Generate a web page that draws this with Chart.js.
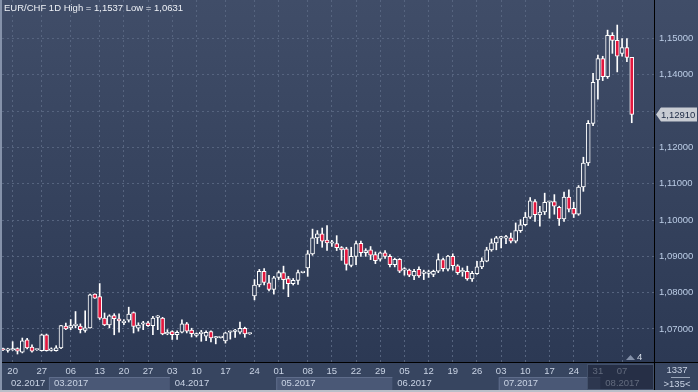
<!DOCTYPE html>
<html>
<head>
<meta charset="utf-8">
<script src="https://cdn.jsdelivr.net/npm/chart.js@4.4.1/dist/chart.umd.min.js"></script>
<style>
html, body { margin: 0; padding: 0; background: #2c3954; }
#chart { display: block; }
</style>
</head>
<body>
<canvas id="chart" width="698" height="392"></canvas>
<script>
// ======================= EUR/CHF 1D candles (Feb - Aug 2017) =======================

// OHLC, one entry per bar
const opens = [
  1.0645, 1.0641, 1.0642, 1.0646, 1.0636, 1.0670, 1.0650, 1.0642, 1.0640, 1.0684,
  1.0641, 1.0640, 1.0648, 1.0708, 1.0703, 1.0709, 1.0708, 1.0696, 1.0703, 1.0796,
  1.0789, 1.0730, 1.0711, 1.0737, 1.0728, 1.0717, 1.0724, 1.0745, 1.0702, 1.0713,
  1.0717, 1.0709, 1.0732, 1.0730, 1.0686, 1.0693, 1.0684, 1.0691, 1.0714, 1.0697,
  1.0682, 1.0687, 1.0680, 1.0693, 1.0675, 1.0676, 1.0667, 1.0691, 1.0693, 1.0691,
  1.0702, 1.0686, 1.0791, 1.0821, 1.0859, 1.0827, 1.0809, 1.0842, 1.0855, 1.0839,
  1.0825, 1.0834, 1.0855, 1.0868, 1.0907, 1.0951, 1.0962, 1.0945, 1.0936, 1.0935,
  1.0924, 1.0921, 1.0875, 1.0900, 1.0936, 1.0910, 1.0918, 1.0905, 1.0892, 1.0910,
  1.0900, 1.0877, 1.0892, 1.0862, 1.0862, 1.0846, 1.0864, 1.0853, 1.0853, 1.0850,
  1.0859, 1.0891, 1.0865, 1.0900, 1.0874, 1.0857, 1.0859, 1.0838, 1.0852, 1.0871,
  1.0887, 1.0918, 1.0937, 1.0950, 1.0950, 1.0951, 1.0942, 1.0971, 1.0987, 1.1008,
  1.1051, 1.1014, 1.1022, 1.1049, 1.1051, 1.1035, 1.1003, 1.1063, 1.1032, 1.1016,
  1.1091, 1.1157, 1.1266, 1.1386, 1.1445, 1.1395, 1.1509, 1.1495, 1.1459, 1.1475,
  1.1448
];
const highs = [
  1.0647, 1.0647, 1.0665, 1.0648, 1.0675, 1.0674, 1.0656, 1.0643, 1.0686, 1.0686,
  1.0648, 1.0654, 1.0710, 1.0716, 1.0726, 1.0748, 1.0714, 1.0750, 1.0796, 1.0797,
  1.0825, 1.0744, 1.0739, 1.0742, 1.0742, 1.0726, 1.0760, 1.0747, 1.0717, 1.0721,
  1.0721, 1.0735, 1.0737, 1.0732, 1.0698, 1.0695, 1.0695, 1.0725, 1.0718, 1.0702,
  1.0689, 1.0696, 1.0695, 1.0695, 1.0679, 1.0677, 1.0691, 1.0694, 1.0699, 1.0719,
  1.0705, 1.0687, 1.0836, 1.0864, 1.0866, 1.0848, 1.0845, 1.0860, 1.0873, 1.0845,
  1.0839, 1.0862, 1.0856, 1.0916, 1.0975, 1.0971, 1.0978, 1.0985, 1.0944, 1.0957,
  1.0927, 1.0925, 1.0925, 1.0942, 1.0942, 1.0921, 1.0927, 1.0912, 1.0912, 1.0916,
  1.0905, 1.0895, 1.0894, 1.0869, 1.0865, 1.0864, 1.0871, 1.0862, 1.0862, 1.0862,
  1.0907, 1.0895, 1.0903, 1.0907, 1.0877, 1.0868, 1.0873, 1.0859, 1.0886, 1.0896,
  1.0925, 1.0948, 1.0955, 1.0955, 1.0958, 1.0964, 1.0992, 1.1001, 1.1021, 1.1062,
  1.1056, 1.1038, 1.1074, 1.1051, 1.1070, 1.1038, 1.1077, 1.1083, 1.1049, 1.1095,
  1.1173, 1.1274, 1.1404, 1.1454, 1.1451, 1.1523, 1.1516, 1.1537, 1.1500, 1.1500,
  1.1448
];
const lows = [
  1.0640, 1.0636, 1.0641, 1.0631, 1.0634, 1.0645, 1.0636, 1.0641, 1.0639, 1.0639,
  1.0639, 1.0639, 1.0646, 1.0698, 1.0698, 1.0703, 1.0689, 1.0691, 1.0702, 1.0784,
  1.0726, 1.0709, 1.0703, 1.0684, 1.0691, 1.0712, 1.0719, 1.0689, 1.0694, 1.0698,
  1.0707, 1.0684, 1.0698, 1.0684, 1.0684, 1.0671, 1.0671, 1.0689, 1.0689, 1.0678,
  1.0678, 1.0666, 1.0668, 1.0664, 1.0659, 1.0675, 1.0661, 1.0672, 1.0677, 1.0686,
  1.0677, 1.0685, 1.0780, 1.0816, 1.0821, 1.0805, 1.0796, 1.0836, 1.0810, 1.0789,
  1.0821, 1.0823, 1.0854, 1.0845, 1.0903, 1.0935, 1.0925, 1.0916, 1.0927, 1.0916,
  1.0889, 1.0862, 1.0871, 1.0877, 1.0900, 1.0900, 1.0891, 1.0880, 1.0887, 1.0894,
  1.0871, 1.0871, 1.0855, 1.0848, 1.0844, 1.0836, 1.0842, 1.0836, 1.0842, 1.0844,
  1.0855, 1.0859, 1.0860, 1.0862, 1.0850, 1.0845, 1.0834, 1.0831, 1.0850, 1.0866,
  1.0885, 1.0914, 1.0918, 1.0923, 1.0935, 1.0937, 1.0937, 1.0966, 1.0984, 1.1004,
  1.0996, 1.0983, 1.1015, 1.1005, 1.1016, 1.0985, 1.0996, 1.1022, 1.1007, 1.1013,
  1.1079, 1.1150, 1.1260, 1.1333, 1.1384, 1.1390, 1.1459, 1.1408, 1.1451, 1.1436,
  1.1268
];
const closes = [
  1.0642, 1.0642, 1.0644, 1.0639, 1.0667, 1.0648, 1.0639, 1.0642, 1.0684, 1.0640,
  1.0641, 1.0648, 1.0709, 1.0700, 1.0709, 1.0709, 1.0698, 1.0703, 1.0794, 1.0785,
  1.0730, 1.0711, 1.0736, 1.0728, 1.0722, 1.0722, 1.0741, 1.0707, 1.0711, 1.0713,
  1.0709, 1.0730, 1.0732, 1.0686, 1.0691, 1.0684, 1.0691, 1.0714, 1.0694, 1.0687,
  1.0687, 1.0687, 1.0691, 1.0675, 1.0675, 1.0676, 1.0689, 1.0691, 1.0693, 1.0702,
  1.0686, 1.0686, 1.0821, 1.0859, 1.0828, 1.0809, 1.0841, 1.0855, 1.0836, 1.0825,
  1.0834, 1.0855, 1.0855, 1.0907, 1.0951, 1.0962, 1.0942, 1.0937, 1.0936, 1.0924,
  1.0918, 1.0878, 1.0900, 1.0935, 1.0910, 1.0916, 1.0903, 1.0888, 1.0910, 1.0900,
  1.0877, 1.0892, 1.0859, 1.0862, 1.0848, 1.0859, 1.0846, 1.0853, 1.0853, 1.0859,
  1.0891, 1.0866, 1.0901, 1.0874, 1.0855, 1.0857, 1.0838, 1.0853, 1.0871, 1.0887,
  1.0918, 1.0937, 1.0951, 1.0950, 1.0950, 1.0942, 1.0971, 1.0987, 1.1008, 1.1053,
  1.1015, 1.1022, 1.1049, 1.1049, 1.1038, 1.1003, 1.1063, 1.1030, 1.1016, 1.1091,
  1.1157, 1.1266, 1.1379, 1.1445, 1.1395, 1.1509, 1.1495, 1.1451, 1.1475, 1.1448,
  1.1291
];

// Week-start tick labels and the bar they sit on
const dayIdx = [2, 8, 14, 20, 25, 30, 35, 40, 46, 52, 57, 63, 68, 73, 78, 83, 88, 93, 98, 103, 108, 113, 118, 123, 128];
const dayLabels = ['20', '27', '06', '13', '20', '27', '03', '10', '17', '24', '01', '08', '15', '22', '29', '05', '12', '19', '26', '03', '10', '17', '24', '31', '07'];

// Month row (bar position where each month starts)
const months = ['02.2017', '03.2017', '04.2017', '05.2017', '06.2017', '07.2017', '08.2017'];
const monthStart = [-3, 9.5, 34.5, 56.5, 80.5, 102.5, 123.5];

// Price axis
const priceTicks = [1.07, 1.08, 1.09, 1.10, 1.11, 1.12, 1.13, 1.14, 1.15];

// ----------------------------------------------------------------------------------
const RED = '#e3173e';
const FONT = 'Liberation Sans, Arial, sans-serif';
const TXT = '#c9d3e4';
const fmt = (v, d) => v.toFixed(d).replace('.', ',');

let bgGrad = null;
function backGradient(chart) {
    if (!bgGrad) {
        bgGrad = chart.ctx.createLinearGradient(0, 0, 0, 362);
        bgGrad.addColorStop(0, '#404d68');
        bgGrad.addColorStop(1, '#2c3954');
    }
    return bgGrad;
}

const bodies = opens.map((o, i) => ({ x: i, y: [Math.min(o, closes[i]), Math.max(o, closes[i])] }));
const wicks = lows.map((l, i) => ({ x: i, y: [l, highs[i]] }));

// no label overhang padding, the plot fills the frame
function noPad(s) { s.paddingTop = 0; s.paddingBottom = 0; s.paddingLeft = 0; s.paddingRight = 0; }

const framePlugin = {
    id: 'frame',
    beforeDraw(chart) {
        const c = chart.ctx;
        c.save();
        c.fillStyle = backGradient(chart);
        c.fillRect(0, 0, 698, 392);
        // bottom strip
        c.fillStyle = '#374560';
        c.fillRect(0, 363, 698, 29);
        c.restore();
    },
    afterDraw(chart) {
        const c = chart.ctx;
        const xs = chart.scales.x, ys = chart.scales.y;
        c.save();

        // month row
        c.font = '9.5px ' + FONT;
        c.textBaseline = 'middle';
        for (let i = 0; i < months.length; i++) {
            const x0 = xs.getPixelForValue(monthStart[i]);
            const x1 = i + 1 < months.length ? xs.getPixelForValue(monthStart[i + 1]) : 654;
            if (i % 2 === 1) {
                c.fillStyle = '#4a5876';
                c.fillRect(x0, 377, Math.min(x1, 654) - x0, 13);
                c.strokeStyle = '#5e6c8a';
                c.beginPath();
                c.moveTo(x0 + 0.5, 390); c.lineTo(x0 + 0.5, 377.5); c.lineTo(Math.min(x1, 654), 377.5);
                c.stroke();
            }
            c.fillStyle = TXT;
            c.fillText(months[i], Math.max(x0, 6) + 5, 383);
        }

        // dimmed overlay at the right end of the time axis
        c.fillStyle = 'rgba(26,34,54,0.6)';
        c.fillRect(587, 364, 67, 26);
        c.strokeStyle = 'rgba(70,84,110,0.9)';
        c.strokeRect(587.5, 364.5, 66, 25);

        // axis lines
        c.strokeStyle = '#000';
        c.lineWidth = 1;
        c.beginPath();
        c.moveTo(0, 362.5); c.lineTo(698, 362.5);
        c.moveTo(654.5, 0); c.lineTo(654.5, 392);
        c.stroke();

        // bottom-right counters
        c.fillStyle = TXT;
        c.textAlign = 'center';
        c.fillText('1337', 677, 370);
        c.fillText('>135<', 677, 384);
        c.strokeStyle = '#9aa6ba';
        c.beginPath();
        c.moveTo(671, 377.5); c.lineTo(690, 377.5);
        c.stroke();

        // marker "4" at the bottom of the plot
        c.fillStyle = '#8390a8';
        c.beginPath();
        c.moveTo(626, 360); c.lineTo(630.5, 355); c.lineTo(635, 360);
        c.closePath(); c.fill();
        c.fillStyle = '#d8dfea';
        c.textAlign = 'left';
        c.fillText('4', 637, 357);

        // last price tag
        const last = closes[closes.length - 1];
        const py = Math.round(ys.getPixelForValue(last)) + 0.5;
        c.fillStyle = '#c8ccd3';
        c.beginPath();
        c.moveTo(656, py); c.lineTo(661, py - 7); c.lineTo(697, py - 7); c.lineTo(697, py + 7); c.lineTo(661, py + 7);
        c.closePath(); c.fill();
        c.fillStyle = '#1d2a44';
        c.fillText(fmt(last, 5), 661, py + 0.5);

        // title
        const hi = Math.max(...highs), lo = Math.min(...lows);
        c.fillStyle = '#eef1f6';
        c.font = '9.5px ' + FONT;
        c.fillText('EUR/CHF 1D High = ' + fmt(hi, 4) + ' Low = ' + fmt(lo, 4), 4, 8);

        // outer frame
        c.fillStyle = '#8592aa';
        c.fillRect(0, 0, 2, 392);
        c.fillStyle = '#b9bec8';
        c.fillRect(0, 390, 698, 2);
        c.restore();
    }
};

const chart = new Chart(document.getElementById('chart').getContext('2d'), {
    type: 'bar',
    data: {
        datasets: [
            {
                label: 'body',
                data: bodies,
                order: 0,
                grouped: false,
                barThickness: 4,
                minBarLength: 1.5,
                borderWidth: 1,
                borderSkipped: false,
                borderColor: '#ffffff',
                backgroundColor: c => closes[c.dataIndex] >= opens[c.dataIndex] ? backGradient(c.chart) : RED
            },
            {
                label: 'wick',
                data: wicks,
                order: 1,
                grouped: false,
                barThickness: 1,
                backgroundColor: '#ffffff'
            }
        ]
    },
    options: {
        responsive: false,
        animation: false,
        devicePixelRatio: 1,
        layout: { padding: { left: 2, right: 0, top: 0, bottom: 0 } },
        plugins: { legend: { display: false }, tooltip: { enabled: false } },
        scales: {
            x: {
                type: 'linear',
                offset: false,
                min: -0.2,
                max: 134.6,
                afterBuildTicks: s => { s.ticks = dayIdx.map(v => ({ value: v })); },
                afterFit: s => { s.height = 30; noPad(s); },
                ticks: {
                    autoSkip: false,
                    maxRotation: 0,
                    padding: 4,
                    color: TXT,
                    font: { family: FONT, size: 9.5 },
                    callback: (v, i) => dayLabels[i]
                },
                grid: { color: '#56647f', drawTicks: false, offset: false },
                border: { display: false, dash: [2, 3] }
            },
            y: {
                position: 'right',
                min: 1.0609,
                max: 1.1606,
                afterBuildTicks: s => { s.ticks = priceTicks.map(v => ({ value: v })); },
                afterFit: s => { s.width = 44; noPad(s); },
                ticks: {
                    padding: 5,
                    color: '#bccde6',
                    font: { family: FONT, size: 9.5 },
                    callback: v => fmt(v, 5)
                },
                grid: { color: '#56647f', drawTicks: false },
                border: { display: false, dash: [2, 3] }
            }
        }
    },
    plugins: [framePlugin]
});
</script>
</body>
</html>
